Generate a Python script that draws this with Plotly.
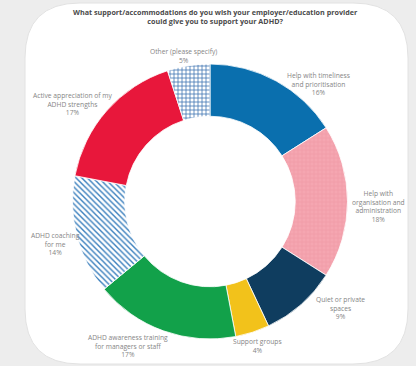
import plotly.graph_objects as go

W, H = 416, 366

categories = [
    "Help with timeliness and prioritisation",
    "Help with organisation and administration",
    "Quiet or private spaces",
    "Support groups",
    "ADHD awareness training for managers or staff",
    "ADHD coaching for me",
    "Active appreciation of my ADHD strengths",
    "Other (please specify)",
]
values = [16, 18, 9, 4, 17, 14, 17, 5]
label_texts = [
    "Help with timeliness<br>and prioritisation<br>16%",
    "Help with<br>organisation and<br>administration<br>18%",
    "Quiet or private<br>spaces<br>9%",
    "Support groups<br>4%",
    "ADHD awareness training<br>for managers or staff<br>17%",
    "ADHD coaching<br>for me<br>14%",
    "Active appreciation of my<br>ADHD strengths<br>17%",
    "Other (please specify)<br>5%",
]
colors = ["#0a6fae", "#f5a6b1", "#0f3d5f", "#f2c21b", "#12a14a", "#ffffff", "#e8173b", "#ffffff"]
pattern_shapes = ["", "+", "", "", "", "\\", "", "+"]
pattern_fg = ["#0a6fae", "#f09ba7", "#0f3d5f", "#f2c21b", "#12a14a", "#3a7fbd", "#e8173b", "#3a70b0"]
pattern_bg = ["#0a6fae", "#f5a6b1", "#0f3d5f", "#f2c21b", "#12a14a", "#ffffff", "#e8173b", "#ffffff"]

# label anchor positions in pixels (centre x, top y)
label_pos = [(318, 69), (378, 187), (340, 293), (257, 335), (128, 331), (55, 229), (72, 89), (183, 45)]

def px(x):
    return x / W

def py(y):
    return 1 - y / H

fig = go.Figure()
fig.add_trace(go.Pie(
    labels=categories,
    values=values,
    sort=False,
    direction="clockwise",
    rotation=0,
    hole=0.62,
    textinfo="none",
    hoverinfo="label+percent",
    showlegend=False,
    marker=dict(
        colors=colors,
        line=dict(color="#ffffff", width=0.8),
        pattern=dict(shape=pattern_shapes, fgcolor=pattern_fg, bgcolor=pattern_bg,
                     size=4, solidity=0.35, fillmode="replace"),
    ),
    domain=dict(x=[px(72), px(348)], y=[py(339), py(64)]),
))

# white rounded card
x0, x1, y0, y1, r = 25, 408, 3, 364, 55
pts = (f"M {px(x0+r)},{py(y0)} L {px(x1-r)},{py(y0)} Q {px(x1)},{py(y0)} {px(x1)},{py(y0+r)} "
       f"L {px(x1)},{py(y1-r)} Q {px(x1)},{py(y1)} {px(x1-r)},{py(y1)} "
       f"L {px(x0+r)},{py(y1)} Q {px(x0)},{py(y1)} {px(x0)},{py(y1-r)} "
       f"L {px(x0)},{py(y0+r)} Q {px(x0)},{py(y0)} {px(x0+r)},{py(y0)} Z")
fig.add_shape(type="path", path=pts, xref="paper", yref="paper",
              fillcolor="#ffffff", line=dict(color="#e2e2e2", width=1), layer="below")

for txt, (lx, ly) in zip(label_texts, label_pos):
    fig.add_annotation(text=txt, x=px(lx), y=py(ly), xref="paper", yref="paper",
                       xanchor="center", yanchor="top", showarrow=False,
                       font=dict(family="Open Sans", size=6.7, color="#858585"))

fig.add_annotation(
    text="<b>What support/accommodations do you wish your employer/education provider<br>could give you to support your ADHD?</b>",
    x=px(215), y=py(5), xref="paper", yref="paper", xanchor="center", yanchor="top",
    showarrow=False, font=dict(family="Open Sans", size=7.2, color="#4a4a4a"))

fig.update_layout(
    width=W, height=H,
    margin=dict(l=0, r=0, t=0, b=0),
    paper_bgcolor="#ededed",
    plot_bgcolor="#ededed",
)

fig.write_html("out.html")
